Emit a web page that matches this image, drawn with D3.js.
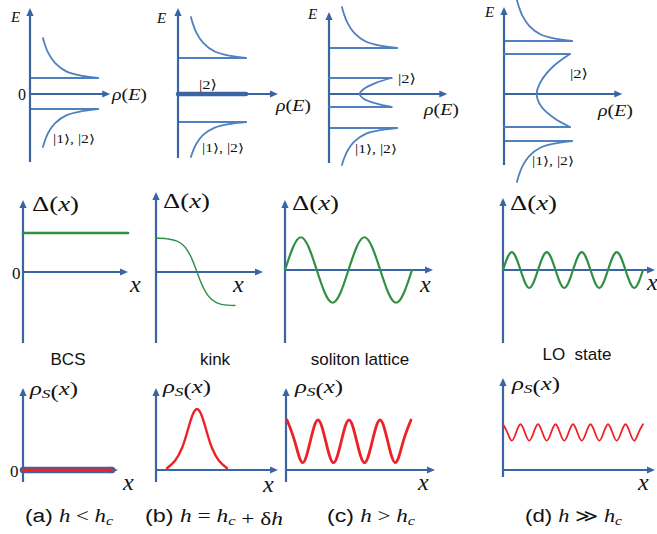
<!DOCTYPE html>
<html><head><meta charset="utf-8">
<script src="https://cdn.jsdelivr.net/npm/d3@7"></script>
<style>body{margin:0;background:#fff}svg{display:block}</style>
</head><body><svg id="c" width="657" height="534"></svg>
<script>
// ================= DATA =================
const panelKeys = ["a", "b", "c", "d"];
const stateNames = ["BCS", "kink", "soliton lattice", "LO\u00a0 state"];
const captionTags = ["(a)", "(b)", "(c)", "(d)"];
// Density of states rho(E), E in units of the spectrum
const gapUpper   = [1.6, 3.6, 4.6, 5.3];   // upper band edge
const gapLower   = [1.5, 2.8, 3.4, 4.7];   // lower band edge (|E|)
const tailTop    = [5.6, 7.7, 8.7, 9.4];   // where the upper DOS tail ends
const tailBottom = [5.3, 6.3, 7.1, 8.8];   // where the lower DOS tail ends
const midUpper   = [null, 0, 1.6, 4.0];    // |2> midgap band upper edge
const midLower   = [null, 0, 1.3, 3.3];    // |2> midgap band lower edge (|E|)
const midRhoEnd  = [null, 1, 0.92, 0.97];
const midRhoMin  = [null, 1, 0.45, 0.48];
// DOS tail shape: [rho fraction, fraction of way from band edge to tail end]
const dosTailShape = [[1, 0], [0.78, 0.05], [0.54, 0.16], [0.37, 0.37], [0.27, 0.62], [0.22, 0.83], [0.19, 1]];
// midgap band shape: [fraction between minimum and edge rho, fraction of half-width]
const midShape = [[1, 1], [0.51, 0.7], [0.14, 0.33], [0, 0], [0.14, -0.38], [0.51, -0.72], [1, -1]];

// Order parameter Delta(x)
const bcsX = [0, 1], bcsDelta = [1, 1];
const kinkX     = [-4.1, -3, -2, -1, -0.5, 0, 0.5, 1, 2, 3, 3.8];
const kinkDelta = [0.87, 0.85, 0.79, 0.57, 0.33, 0, -0.33, -0.57, -0.79, -0.85, -0.86];
const solX      = [0, 0.25, 0.5, 0.75, 1, 1.25, 1.5, 1.75, 2];
const solDelta  = [0, 0.84, 0, -0.84, 0, 0.84, 0, -0.84, 0];
const loX       = [0, 0.25, 0.5, 0.75, 1, 1.25, 1.5, 1.75, 2, 2.25, 2.5, 2.75, 3, 3.25, 3.5, 3.75, 4];
const loDelta   = [0, 0.46, 0, -0.46, 0, 0.46, 0, -0.46, 0, 0.46, 0, -0.46, 0, 0.46, 0, -0.46, 0];

// Spin density rho_S(x)
const bcsRhoX = [0, 1], bcsRho = [0, 0];
const kinkRhoX = [-3, -2.2, -1.5, -1, -0.5, 0, 0.5, 1, 1.5, 2.2, 3];
const kinkRho  = [0.03, 0.15, 0.36, 0.61, 0.88, 1, 0.88, 0.61, 0.36, 0.15, 0.03];
const solRhoX = [0, 0.25, 0.5, 0.75, 1, 1.25, 1.5, 1.75, 2, 2.25, 2.5, 2.75, 3, 3.25, 3.5, 3.75, 4];
const solRho  = [0.82, 0.47, 0.12, 0.47, 0.82, 0.47, 0.12, 0.47, 0.82, 0.47, 0.12, 0.47, 0.82, 0.47, 0.12, 0.47, 0.82];
const loRhoX = [0, 0.25, 0.5, 0.75, 1, 1.25, 1.5, 1.75, 2, 2.25, 2.5, 2.75, 3, 3.25, 3.5, 3.75, 4,
                4.25, 4.5, 4.75, 5, 5.25, 5.5, 5.75, 6, 6.25, 6.5, 6.75, 7, 7.25, 7.5, 7.75, 8];
const loRho = [0.75, 0.615, 0.48, 0.615, 0.75, 0.615, 0.48, 0.615, 0.75, 0.615, 0.48, 0.615, 0.75, 0.615, 0.48, 0.615,
               0.75, 0.615, 0.48, 0.615, 0.75, 0.615, 0.48, 0.615, 0.75, 0.615, 0.48, 0.615, 0.75, 0.615, 0.48, 0.615, 0.75];

// ================= STYLE / LAYOUT =================
const AX = "#3a64a4", DOSC = "#4f80bf", GREEN = "#2f8f44", RED = "#ec2227";
const SERIF = "'Liberation Serif','DejaVu Serif',serif";
const SANS = "'Liberation Sans',Arial,sans-serif";
const svg = d3.select("#c");

function arrow(x1, y1, x2, y2, color, w) {
  const ang = Math.atan2(y2 - y1, x2 - x1), L = 8, hw = 3.6;
  const bx = x2 - L * Math.cos(ang), by = y2 - L * Math.sin(ang);
  svg.append("line").attr("x1", x1).attr("y1", y1).attr("x2", bx + Math.cos(ang)).attr("y2", by + Math.sin(ang))
    .attr("stroke", color).attr("stroke-width", w);
  svg.append("polygon")
    .attr("points", [[x2, y2], [bx - hw * Math.sin(ang), by + hw * Math.cos(ang)], [bx + hw * Math.sin(ang), by - hw * Math.cos(ang)]].map(p => p.join(",")).join(" "))
    .attr("fill", color);
}
function path(pts, color, w, curve) {
  svg.append("path").attr("d", d3.line().curve(curve || d3.curveLinear)(pts))
    .attr("fill", "none").attr("stroke", color).attr("stroke-width", w)
    .attr("stroke-linecap", "round").attr("stroke-linejoin", "round");
}
// parts: [text, style] style: i italic, s sub, u undo-sub, f sans
function label(x, y, parts, size, opt = {}) {
  const t = svg.append("text").attr("x", x).attr("y", y).attr("font-size", size)
    .attr("font-family", opt.sans ? SANS : SERIF).attr("fill", opt.color || "#111")
    .style("white-space", "pre");
  if (opt.anchor) t.attr("text-anchor", opt.anchor);
  parts.forEach(p => {
    const [txt, st = ""] = Array.isArray(p) ? p : [p];
    const s = t.append("tspan").text(txt);
    if (st.includes("i")) s.attr("font-style", "italic");
    if (st.includes("f")) s.attr("font-family", SANS);
    if (st.includes("s")) s.attr("font-size", size * 0.7).attr("dy", size * 0.18);
    if (st.includes("u")) s.attr("dy", -size * 0.18);
  });
  if (opt.len) t.attr("textLength", opt.len).attr("lengthAdjust", opt.adj || "spacingAndGlyphs");
  return t;
}

// ---------- top row: density of states ----------
const topAxisX = [30, 178, 329, 504];
const topAxisTopE = [8.6, 8.6, 8.2, 8.7], topAxisBotE = [-6.8, -6.4, -6.9, -7.1];
const rhoArrow = [1.18, 1.47, 1.74, 1.74];
panelKeys.forEach((k, i) => {
  const e = d3.scaleLinear().domain([0, 1]).range([94, 84]);
  const r = d3.scaleLinear().domain([0, 1]).range([topAxisX[i], topAxisX[i] + 68]);
  [gapUpper[i], -gapLower[i]].forEach(v => path([[r(0), e(v)], [r(1), e(v)]], DOSC, 1.8));
  path(dosTailShape.map(([f, h]) => [r(f), e(gapUpper[i] + h * (tailTop[i] - gapUpper[i]))]), DOSC, 1.8, d3.curveCatmullRom.alpha(0.5));
  path(dosTailShape.map(([f, h]) => [r(f), e(-(gapLower[i] + h * (tailBottom[i] - gapLower[i])))]), DOSC, 1.8, d3.curveCatmullRom.alpha(0.5));
  arrow(r(0), e(topAxisBotE[i]), r(0), e(topAxisTopE[i]), AX, 2.2);
  arrow(r(0), e(0), r(rhoArrow[i]), e(0), AX, 2.2);
  if (i === 1) {
    path([[r(0), e(0)], [r(midRhoEnd[i]), e(0)]], AX, 4.5);
  } else if (i >= 2) {
    [midUpper[i], -midLower[i]].forEach(v => path([[r(0), e(v)], [r(midRhoEnd[i]), e(v)]], DOSC, 1.8));
    path(midShape.map(([f, t]) => [r(midRhoMin[i] + f * (midRhoEnd[i] - midRhoMin[i])), e(t >= 0 ? t * midUpper[i] : t * midLower[i])]),
      DOSC, 1.8, d3.curveCatmullRom.alpha(0.5));
  }
});
[[11, 22], [157, 23], [308, 19], [485, 17]].forEach(([x, y]) => label(x, y, [["E", "i"]], 15));
label(18, 100, ["0"], 16);
[[112, 100], [276, 111], [424, 115], [598, 116]].forEach(([x, y]) => label(x, y, [["ρ", "i"], "(", ["E", "i"], ")"], 17, { len: 35 }));
[[53, 143], [202, 152], [355, 153], [532, 165]].forEach(([x, y]) => label(x, y, ["|1⟩, |2⟩"], 12, { len: 42 }));
[[199, 89], [398, 83], [570, 78]].forEach(([x, y]) => label(x, y, ["|2⟩"], 13, { len: 18 }));

// ---------- middle row: Delta(x) ----------
const midAxisX = [23, 156, 285, 503];
const midZeroY = [272, 272, 270, 270];
const midTopY = [200, 192, 200, 198];
const midTipX = [128, 263, 433, 655];
const midCurves = [
  { xs: bcsX, ys: bcsDelta, dom: [0, 1], rng: [23, 128], w: 2.6, c: d3.curveLinear },
  { xs: kinkX, ys: kinkDelta, dom: [-4.1, 3.8], rng: [156, 235], w: 1.4, c: d3.curveMonotoneX },
  { xs: solX, ys: solDelta, dom: [0, 2], rng: [285, 412], w: 2.2, c: d3.curveNatural },
  { xs: loX, ys: loDelta, dom: [0, 4], rng: [503, 643], w: 2.2, c: d3.curveNatural }
];
midCurves.forEach((m, i) => {
  const x = d3.scaleLinear().domain(m.dom).range(m.rng);
  const y = d3.scaleLinear().domain([0, 1]).range([midZeroY[i], midZeroY[i] - 39]);
  arrow(midAxisX[i], 343, midAxisX[i], midTopY[i], AX, 2.2);
  arrow(midAxisX[i], y(0), midTipX[i], y(0), AX, 2.2);
  path(m.xs.map((v, j) => [x(v), y(m.ys[j])]), GREEN, m.w, m.c);
});
label(12, 279, ["0"], 17);
[[32, 211], [163, 208], [292, 210], [510, 210]].forEach(([x, y]) => label(x, y, ["Δ(", ["x", "i"], ")"], 21, { len: 47 }));
[[130, 292], [233, 292], [420, 292], [647, 290]].forEach(([x, y]) => label(x, y, [["x", "i"]], 24));

// ---------- state names ----------
[[68, 365], [215, 365], [360, 365], [577, 360]].forEach(([x, y], i) =>
  label(x, y, [stateNames[i]], 17, { sans: true, color: "#111", anchor: "middle" }));

// ---------- bottom row: rho_S(x) ----------
const botAxisX = [23, 156, 286, 503];
const botTopY = [388, 388, 388, 378], botBotY = [482, 482, 482, 477];
const botTipX = [118, 278, 435, 655];
const botCurves = [
  { xs: bcsRhoX, ys: bcsRho, dom: [0, 1], rng: [23, 112], w: 3.2, c: d3.curveLinear },
  { xs: kinkRhoX, ys: kinkRho, dom: [-4.1, 3.8], rng: [156, 235], w: 2.4, c: d3.curveNatural },
  { xs: solRhoX, ys: solRho, dom: [0, 4], rng: [287, 411], w: 2.8, c: d3.curveNatural },
  { xs: loRhoX, ys: loRho, dom: [0, 8], rng: [503, 643], w: 1.8, c: d3.curveNatural }
];
botCurves.forEach((m, i) => {
  const x = d3.scaleLinear().domain(m.dom).range(m.rng);
  const y = d3.scaleLinear().domain([0, 1]).range([470, 409]);
  arrow(botAxisX[i], botBotY[i], botAxisX[i], botTopY[i], AX, 2.2);
  if (i === 0) path([[x(0), y(0)], [x(1), y(0)]], AX, 6.5);
  arrow(botAxisX[i], y(0), botTipX[i], y(0), AX, 2.2);
  path(m.xs.map((v, j) => [x(v), y(m.ys[j])]), RED, m.w, m.c);
});
label(10, 477, ["0"], 17);
[[30, 395], [163, 393], [295, 393], [512, 390]].forEach(([x, y]) => label(x, y, [["ρ", "i"], ["S", "is"], "(", ["x", "iu"], ")"], 19, { len: 48 }));
[[123, 490], [263, 492], [418, 490], [638, 490]].forEach(([x, y]) => label(x, y, [["x", "i"]], 24));

// ---------- captions ----------
const captionMath = [
  [["h", "i"], " < ", ["h", "i"], ["c", "is"]],
  [["h", "i"], " = ", ["h", "i"], ["c", "is"], ["", "u"], " + δ", ["h", "i"]],
  [["h", "i"], " > ", ["h", "i"], ["c", "is"]],
  [["h", "i"], " ≫ ", ["h", "i"], ["c", "is"]]
];
const capPos = [[25, 88], [145, 138], [327, 88], [525, 97]];
capPos.forEach(([x, w], i) => {
  label(x, 522, [[captionTags[i] + " ", "f"]].concat(captionMath[i]), 18, { len: w });
});
</script></body></html>
